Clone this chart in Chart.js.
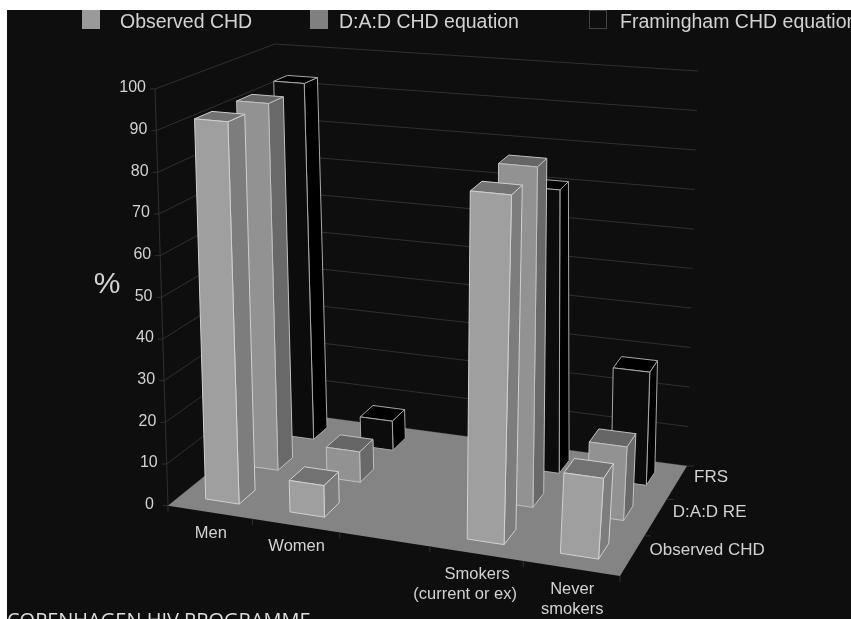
<!DOCTYPE html>
<html>
<head>
<meta charset="utf-8">
<script src="https://cdn.jsdelivr.net/npm/chart.js@4"></script>
<style>
  html, body { margin: 0; background: #fff; overflow: hidden; }
  canvas { position: absolute; left: 0; top: 0; }
</style>
</head>
<body>
<canvas id="chart" width="851" height="619"></canvas>
<script>
// values
const categories = ["Men", "Women", "", ["Smokers", "(current or ex)"], ["Never", "smokers"]];
const observed = [92, 7.5, null, 81, 18.5];
const dad = [92, 7.5, null, 82, 17.5];
const framingham = [93, 7.5, null, 71, 28];
const legendNames = ["Observed CHD", "D:A:D CHD equation", "Framingham CHD equation"];
const rowNames = ["Observed CHD", "D:A:D RE", "FRS"];
const yTicks = { min: 0, max: 100, step: 10 };

// corners of the 3D box on the page: front-left, front-right, back-right, back-left
const floorQuad = [[168, 505.7], [620, 576], [687, 466], [284, 412]];
const topQuad = [[155, 89], [656, 133], [698, 71], [275, 44]];

const faces = [
  { front: "#9f9f9f", side: "#7d7d7d", top: "#727272", edge: "#d0d0d0" },
  { front: "#929292", side: "#696969", top: "#666666", edge: "#c0c0c0" },
  { front: "#0c0c0c", side: "#000000", top: "#000000", edge: "#a8a8a8" }
];

// unit square -> quad homography
function quadMap(q) {
  const [p0, p1, p2, p3] = q;
  const dx1 = p1[0] - p2[0], dx2 = p3[0] - p2[0], sx = p0[0] - p1[0] + p2[0] - p3[0];
  const dy1 = p1[1] - p2[1], dy2 = p3[1] - p2[1], sy = p0[1] - p1[1] + p2[1] - p3[1];
  const det = dx1 * dy2 - dx2 * dy1;
  const g = (sx * dy2 - dx2 * sy) / det;
  const h = (dx1 * sy - sx * dy1) / det;
  const a = p1[0] - p0[0] + g * p1[0], b = p3[0] - p0[0] + h * p3[0];
  const d = p1[1] - p0[1] + g * p1[1], e = p3[1] - p0[1] + h * p3[1];
  return (u, v) => {
    const w = g * u + h * v + 1;
    return [(a * u + b * v + p0[0]) / w, (d * u + e * v + p0[1]) / w];
  };
}
const floorMap = quadMap(floorQuad);
const topMap = quadMap(topQuad);

function project(u, h, v) {
  const g = floorMap(u, v), t = topMap(u, v);
  return [g[0] + (t[0] - g[0]) * h, g[1] + (t[1] - g[1]) * h];
}

function poly(ctx, pts, fill, stroke) {
  ctx.beginPath();
  pts.forEach((p, i) => i ? ctx.lineTo(p[0], p[1]) : ctx.moveTo(p[0], p[1]));
  ctx.closePath();
  if (fill) { ctx.fillStyle = fill; ctx.fill(); }
  if (stroke) { ctx.strokeStyle = stroke; ctx.lineWidth = 1; ctx.stroke(); }
}

function seg(ctx, a, b, color) {
  ctx.beginPath();
  ctx.moveTo(a[0], a[1]);
  ctx.lineTo(b[0], b[1]);
  ctx.strokeStyle = color;
  ctx.lineWidth = 1;
  ctx.stroke();
}

const box3d = {
  id: "box3d",
  beforeDatasetsDraw(chart) {
    const ctx = chart.ctx, area = chart.chartArea, y = chart.scales.y, x = chart.scales.x;
    ctx.save();
    ctx.fillStyle = "#0e0e0e";
    ctx.fillRect(7, 10, 844, 609);

    // walls
    const grid = "#303030";
    y.ticks.forEach(t => {
      const h = (area.bottom - y.getPixelForValue(t.value)) / area.height;
      seg(ctx, project(0, h, 0), project(0, h, 1), grid);
      seg(ctx, project(0, h, 1), project(1, h, 1), grid);
      seg(ctx, project(0, h, 0), [project(0, h, 0)[0] - 5, project(0, h, 0)[1]], grid);
    });
    seg(ctx, project(0, 0, 0), project(0, 1, 0), grid);

    // floor
    poly(ctx, floorQuad, "#848484");

    // tick marks under the floor
    for (let i = 0; i <= categories.length; i++) {
      const p = project(i / categories.length, 0, 0);
      seg(ctx, p, [p[0], p[1] + 6], "#303030");
    }
    for (let r = 1; r <= rowNames.length; r++) {
      const p = project(1, 0, r / rowNames.length);
      seg(ctx, p, [p[0] + 7, p[1]], "#303030");
    }

    // bars, back row first, left to right
    for (let r = chart.data.datasets.length - 1; r >= 0; r--) {
      const v0 = (r + 0.3) / 3, v1 = (r + 0.7) / 3, c = faces[r];
      chart.getDatasetMeta(r).data.forEach((el, i) => {
        if (chart.data.datasets[r].data[i] == null) return;
        const u0 = (el.x - el.width / 2 - area.left) / area.width;
        const u1 = (el.x + el.width / 2 - area.left) / area.width;
        const h = (el.base - el.y) / area.height;
        const a = project(u0, 0, v0), b = project(u1, 0, v0), e = project(u1, 0, v1);
        const at = project(u0, h, v0), bt = project(u1, h, v0), et = project(u1, h, v1), dt = project(u0, h, v1);
        poly(ctx, [b, e, et, bt], c.side, c.edge);
        poly(ctx, [at, bt, et, dt], c.top, c.edge);
        poly(ctx, [a, b, bt, at], c.front, c.edge);
      });
    }

    // text
    ctx.fillStyle = "#d2d2d2";
    ctx.font = "16px 'Liberation Sans'";
    ctx.textBaseline = "middle";
    ctx.textAlign = "right";
    y.ticks.forEach(t => {
      const h = (area.bottom - y.getPixelForValue(t.value)) / area.height;
      const p = project(0, h, 0);
      ctx.fillText(t.label, p[0] - (t.value === 0 ? 14 : 9), p[1] - 1);
    });
    ctx.font = "16.5px 'Liberation Sans'";
    ctx.textAlign = "center";
    x.ticks.forEach((t, i) => {
      const p = project((x.getPixelForTick(i) - area.left) / area.width, 0, 0);
      const lines = Array.isArray(t.label) ? t.label : [t.label];
      lines.forEach((s, k) => ctx.fillText(s, p[0] + (s[0] === "(" ? -11 : 1), p[1] + 21 + k * 20));
    });
    ctx.font = "17px 'Liberation Sans'";
    ctx.textAlign = "left";
    rowNames.forEach((s, r) => {
      const p = project(1, 0, (r + 0.5) / rowNames.length);
      ctx.fillText(s, p[0] + 17, p[1] - 5);
    });

    ctx.font = "30px 'Liberation Sans'";
    ctx.textAlign = "center";
    ctx.fillText("%", 107, 285);

    // legend
    ctx.font = "19.5px 'Liberation Sans'";
    ctx.textAlign = "left";
    const swatch = [82, 310, 589], label = [120, 339, 620];
    legendNames.forEach((s, i) => {
      ctx.fillStyle = i === 0 ? "#9a9a9a" : i === 1 ? "#808080" : "#0e0e0e";
      ctx.fillRect(swatch[i], 10, 18, 19);
      if (i === 2) { ctx.strokeStyle = "#444444"; ctx.lineWidth = 1; ctx.strokeRect(swatch[i] + 0.5, 10.5, 17, 18); }
      ctx.fillStyle = "#d2d2d2";
      ctx.fillText(s, label[i], 23);
    });

    ctx.font = "20px 'Open Sans'";
    ctx.textBaseline = "alphabetic";
    ctx.fillStyle = "#dddddd";
    ctx.fillText("COPENHAGEN HIV PROGRAMME", 7, 627);
    ctx.restore();
  }
};

new Chart(document.getElementById("chart"), {
  type: "bar",
  data: {
    labels: categories,
    datasets: [
      { label: legendNames[0], data: observed },
      { label: legendNames[1], data: dad },
      { label: legendNames[2], data: framingham }
    ].map(d => Object.assign(d, { backgroundColor: "transparent", borderWidth: 0, grouped: false }))
  },
  options: {
    responsive: false,
    animation: false,
    layout: { padding: { left: 168, right: 231, top: 89, bottom: 113.3 } },
    datasets: { bar: { categoryPercentage: 1, barPercentage: 0.4 } },
    plugins: { legend: { display: false }, tooltip: { enabled: false } },
    scales: {
      x: { display: false },
      y: { display: false, min: yTicks.min, max: yTicks.max, ticks: { stepSize: yTicks.step } }
    }
  },
  plugins: [box3d]
});
</script>
</body>
</html>
